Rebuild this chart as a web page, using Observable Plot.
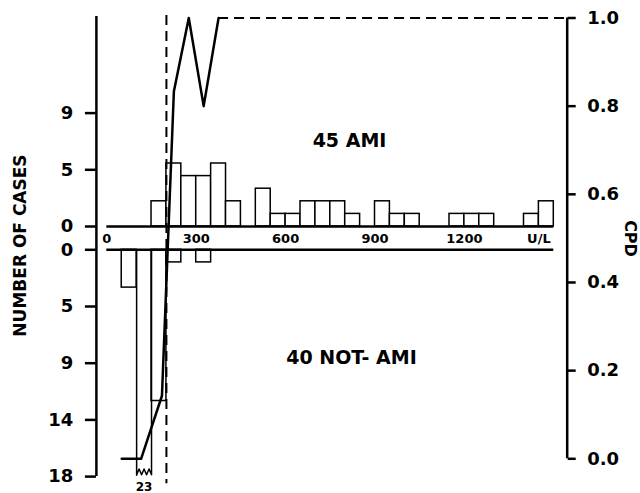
<!DOCTYPE html>
<html><head><meta charset="utf-8">
<script src="https://cdn.jsdelivr.net/npm/d3@7"></script>
<script src="https://cdn.jsdelivr.net/npm/@observablehq/plot@0.6"></script>
<style>
body{margin:0;background:#fff;}
#chart{position:relative;width:640px;height:493px;background:#fff;}
#chart svg{position:absolute;left:0;top:0;background:transparent;}
</style></head><body><div id="chart"></div>
<script>
// ---- data ----
const binStarts = [0,50,100,150,200,250,300,350,400,450,500,550,600,650,700,750,800,850,900,950,1000,1050,1100,1150,1200,1250,1300,1350,1400,1450];
const binWidth = 50;
const amiCounts    = [0,0,0,2,5,4,4,5,2,0,3,1,1,2,2,2,1,0,2,1,1,0,0,1,1,1,0,0,1,2];
const notAmiCounts = [0,3,23,12,1,0,1,0,0,0,0,0,0,0,0,0,0,0,0,0,0,0,0,0,0,0,0,0,0,0];
const cpdX      = [50,115,185,225,275,325,375];
const cpdValues = [0,0,0.143,0.833,1,0.8,1];
const threshold = 200;
const xTickValues = [0,300,600,900,1200,1450];
const xTickLabels = ["0","300","600","900","1200","U/L"];
const upperTickValues = [0,4.5,9];
const upperTickLabels = ["0","5","9"];
const lowerTickValues = [0,4.5,9,13.5,18];
const lowerTickLabels = ["0","5","9","14","18"];
const cpdTickValues = [0,0.2,0.4,0.6,0.8,1.0];
const amiLabel = "45 AMI";
const notAmiLabel = "40 NOT- AMI";
const yLabel = "NUMBER OF CASES";
const y2Label = "CPD";

// ---- layout ----
const W = 640, H = 493;
const xDomain = [-35, 1545];
const mL = 95.9, mR = 73.3;
const pxPerCase = 12.6;
const upperBase = 226, lowerBase = 249.3;
const cpdTop = 17.5, cpdBottom = 458.3;
const lowerMax = 18;
const font = "DejaVu Sans";

const bars = binStarts.map((s, i) => ({x1: s, x2: s + binWidth, ami: amiCounts[i], not: notAmiCounts[i]}));
const amiBars = bars.filter(d => d.ami > 0);
const notBars = bars.filter(d => d.not > 0 && d.not <= lowerMax);
const brokenBars = bars.filter(d => d.not > lowerMax);
const cpd = cpdX.map((x, i) => ({x, y: cpdValues[i]}));

const fmt = (vals, labels) => d => labels[vals.indexOf(d)];
const chart = document.getElementById("chart");

// upper (AMI)
const upperTopVal = (upperBase - 16) / pxPerCase;
const upperPlot = Plot.plot({
  width: W, height: H,
  marginLeft: mL, marginRight: mR, marginTop: 16, marginBottom: H - upperBase,
  style: {background: "white"},
  x: {domain: xDomain},
  y: {domain: [0, upperTopVal]},
  marks: [
    Plot.rect(amiBars, {x1: "x1", x2: "x2", y1: 0, y2: "ami", fill: "white", stroke: "black", strokeWidth: 1.5}),
    Plot.ruleY([0], {x1: binStarts[0], x2: binStarts[binStarts.length-1] + binWidth, stroke: "black", strokeWidth: 2.5}),
    Plot.axisY({anchor: "left", ticks: upperTickValues, tickFormat: fmt(upperTickValues, upperTickLabels),
      tickSize: 11, tickPadding: 12, strokeWidth: 2.5, fontSize: 18, fontFamily: font, fontWeight: "bold", label: null}),
    Plot.axisX({anchor: "bottom", ticks: xTickValues, tickFormat: fmt(xTickValues, xTickLabels),
      tickSize: 0, tickPadding: 7, fontSize: 13, fontFamily: font, fontWeight: "bold", label: null})
  ]
});

// lower (NOT-AMI)
const zig = [];
brokenBars.forEach(b => {
  const seg = [{x: b.x1, y: 0}, {x: b.x1, y: lowerMax - 0.1}];
  const n = 6;
  for (let k = 0; k <= n; k++) seg.push({x: b.x1 + (b.x2 - b.x1) * k / n, y: lowerMax - 0.35 + (k % 2 ? -0.25 : 0.2)});
  seg.push({x: b.x2, y: lowerMax - 0.2}, {x: b.x2, y: 0});
  seg.forEach(p => zig.push({...p, id: b.x1}));
});
const lowerPlot = Plot.plot({
  width: W, height: H,
  marginLeft: mL, marginRight: mR, marginTop: lowerBase, marginBottom: H - (lowerBase + lowerMax * pxPerCase),
  x: {domain: xDomain},
  y: {domain: [0, lowerMax], reverse: true},
  marks: [
    Plot.rect(notBars, {x1: "x1", x2: "x2", y1: 0, y2: "not", fill: "white", stroke: "black", strokeWidth: 1.5}),
    Plot.line(zig, {x: "x", y: "y", z: "id", stroke: "black", strokeWidth: 1.5}),
    Plot.text(brokenBars, {x: d => (d.x1 + d.x2) / 2, y: lowerMax, dy: 11, text: d => String(d.not),
      fontSize: 12, fontFamily: font, fontWeight: "bold"}),
    Plot.ruleY([0], {x1: binStarts[0], x2: binStarts[binStarts.length-1] + binWidth, stroke: "black", strokeWidth: 2.5}),
    Plot.axisY({anchor: "left", ticks: lowerTickValues, tickFormat: fmt(lowerTickValues, lowerTickLabels),
      tickSize: 11, tickPadding: 12, strokeWidth: 2.5, fontSize: 18, fontFamily: font, fontWeight: "bold", label: null}),
    Plot.axisX({ticks: [], label: null})
  ]
});

// CPD overlay
const lbl = (s, cx, cy, opts) => Plot.text([s], {frameAnchor: "top-left", dx: cx - mL, dy: cy - cpdTop, text: d => d,
  textAnchor: "middle", lineAnchor: "middle", fontFamily: font, fontWeight: "bold", ...opts});
const cpdPlot = Plot.plot({
  width: W, height: H,
  marginLeft: mL, marginRight: mR, marginTop: cpdTop, marginBottom: H - cpdBottom,
  x: {domain: xDomain, axis: null},
  y: {domain: [0, 1]},
  marks: [
    Plot.ruleX([xDomain[0]], {stroke: "black", strokeWidth: 2.5, insetTop: -1.5, insetBottom: -(lowerBase + lowerMax * pxPerCase - cpdBottom)}),
    Plot.ruleX([xDomain[1]], {stroke: "black", strokeWidth: 2.5}),
    Plot.ruleX([threshold], {stroke: "black", strokeWidth: 2, strokeDasharray: "10,6", insetTop: -2.5, insetBottom: -25}),
    Plot.ruleY([cpdValues[cpdValues.length-1]], {x1: cpdX[cpdX.length-1], x2: xDomain[1], stroke: "black", strokeWidth: 2, strokeDasharray: "10,6"}),
    Plot.line(cpd, {x: "x", y: "y", stroke: "black", strokeWidth: 2.5}),
    Plot.axisY({anchor: "right", ticks: cpdTickValues, tickFormat: d3.format(".1f"),
      tickSize: 8, tickPadding: 12, strokeWidth: 2.5, fontSize: 18, fontFamily: font, fontWeight: "bold", label: null}),
    lbl(amiLabel, 349, 140, {fontSize: 19}),
    lbl(notAmiLabel, 351, 357, {fontSize: 19}),
    lbl(yLabel, 20, 245, {fontSize: 17, rotate: -90}),
    lbl(y2Label, 630, 238, {fontSize: 16, rotate: 90})
  ]
});

chart.append(upperPlot, lowerPlot, cpdPlot);
</script></body></html>
